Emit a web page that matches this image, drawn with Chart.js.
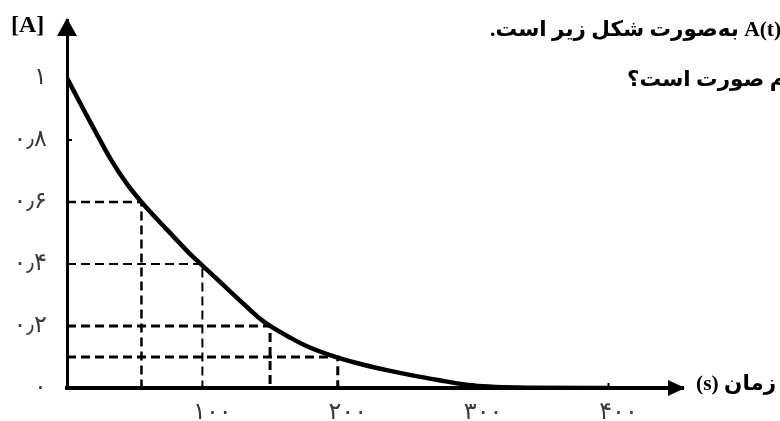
<!DOCTYPE html>
<html lang="fa">
<head>
<meta charset="utf-8">
<script src="https://cdn.jsdelivr.net/npm/chart.js@4.4.1/dist/chart.umd.min.js"></script>
<style>
  html, body { margin: 0; padding: 0; background: #fff; }
  #wrap { width: 780px; height: 421px; position: relative; }
</style>
</head>
<body>
<div id="wrap"><canvas id="chart"></canvas></div>
<script>
// concentration of A vs time
const timeSec = [0, 12, 20, 32, 44, 55, 74, 91, 100, 116, 128, 141, 150, 165, 178, 200, 219, 237, 256, 274, 300, 340, 400];
const concA = [1.0, 0.9, 0.835, 0.74, 0.66, 0.6, 0.51, 0.432, 0.395, 0.33, 0.281, 0.229, 0.2, 0.162, 0.133, 0.098, 0.075, 0.057, 0.04, 0.026, 0.008, 0.001, 0];

// dashed read-off guides
const guideTime = [55, 100, 150, 200];
const guideConc = [0.6, 0.4, 0.2, 0.1];

const yTicks = [0, 0.2, 0.4, 0.6, 0.8, 1];
const yTickLabels = ['۰', '۰٫۲', '۰٫۴', '۰٫۶', '۰٫۸', '۱'];
const xTicks = [100, 200, 300, 400];
const xTickLabels = ['۱۰۰', '۲۰۰', '۳۰۰', '۴۰۰'];

const guideWidths = [2.5, 2, 3, 3];

const curve = {
  data: timeSec.map((t, i) => ({ x: t, y: concA[i] })),
  showLine: true,
  borderColor: '#000',
  borderWidth: 4.5,
  pointRadius: 0,
  cubicInterpolationMode: 'monotone',
  order: 0,
};

const guides = guideTime.map((t, i) => ({
  data: [
    { x: 0, y: guideConc[i] },
    { x: t, y: guideConc[i] },
    { x: t, y: 0 },
  ],
  showLine: true,
  borderColor: '#000',
  borderWidth: guideWidths[i],
  borderDash: [9, 5],
  pointRadius: 0,
  order: 1,
}));

const tickFont = { family: "'DejaVu Sans'", size: 24 };

const decorations = {
  id: 'decorations',
  afterDraw(chart) {
    const { ctx, chartArea, scales } = chart;
    const left = chartArea.left;
    const bottom = chartArea.bottom;
    ctx.save();
    ctx.fillStyle = '#000';
    ctx.strokeStyle = '#000';

    // arrow heads
    ctx.beginPath();
    ctx.moveTo(left, chartArea.top - 2);
    ctx.lineTo(left - 10, chartArea.top + 16);
    ctx.lineTo(left + 10, chartArea.top + 16);
    ctx.closePath();
    ctx.fill();

    ctx.beginPath();
    ctx.moveTo(chartArea.right + 2, bottom);
    ctx.lineTo(chartArea.right - 15, bottom - 8);
    ctx.lineTo(chartArea.right - 15, bottom + 8);
    ctx.closePath();
    ctx.fill();

    // small tick marks
    ctx.lineWidth = 2;
    const y08 = scales.y.getPixelForValue(0.8);
    ctx.beginPath();
    ctx.moveTo(left, y08);
    ctx.lineTo(left + 5, y08);
    ctx.stroke();
    [300, 400].forEach((v) => {
      const px = scales.x.getPixelForValue(v);
      ctx.beginPath();
      ctx.moveTo(px, bottom);
      ctx.lineTo(px, bottom - 5);
      ctx.stroke();
    });

    // axis titles
    ctx.textBaseline = 'middle';
    ctx.font = "bold 24px 'Liberation Serif', 'DejaVu Sans'";
    ctx.direction = 'ltr';
    ctx.textAlign = 'left';
    ctx.fillText('[A]', 11, 26);

    ctx.font = "bold 21.5px 'Liberation Serif', 'DejaVu Sans'";
    ctx.direction = 'rtl';
    ctx.textAlign = 'left';
    ctx.fillText('زمان (s)', 696, 384);

    // clipped question text from the page
    ctx.fillText('A(t) به‌صورت شکل زیر است.', 490, 30);
    ctx.fillText('کدام صورت است؟', 627, 80);
    ctx.restore();
  },
};

new Chart(document.getElementById('chart'), {
  type: 'scatter',
  data: { datasets: [curve, ...guides] },
  options: {
    responsive: true,
    maintainAspectRatio: false,
    animation: false,
    layout: { padding: { left: 0, top: 20, right: 97, bottom: 0 } },
    plugins: { legend: { display: false }, tooltip: { enabled: false } },
    scales: {
      x: {
        type: 'linear',
        min: 0,
        max: 455,
        afterBuildTicks: (s) => { s.ticks = xTicks.map((v) => ({ value: v })); },
        afterFit: (s) => {
          s.height = 33;
          s.paddingLeft = 0;
          s.paddingRight = 0;
        },
        grid: { display: false, drawTicks: false },
        border: { display: true, color: '#000', width: 4 },
        ticks: {
          autoSkip: false,
          maxRotation: 0,
          padding: 10,
          labelOffset: 10,
          color: '#3a3a3a',
          font: tickFont,
          callback: (v) => xTickLabels[xTicks.indexOf(v)],
        },
      },
      y: {
        min: 0,
        max: 1.187,
        afterBuildTicks: (s) => { s.ticks = yTicks.map((v) => ({ value: v })); },
        afterFit: (s) => {
          s.width = 67;
          s.paddingTop = 0;
          s.paddingBottom = 0;
        },
        grid: { display: false, drawTicks: false },
        border: { display: true, color: '#000', width: 3 },
        ticks: {
          autoSkip: false,
          padding: 20,
          color: '#3a3a3a',
          font: tickFont,
          callback: (v) => yTickLabels[yTicks.indexOf(v)],
        },
      },
    },
  },
  plugins: [decorations],
});
</script>
</body>
</html>
